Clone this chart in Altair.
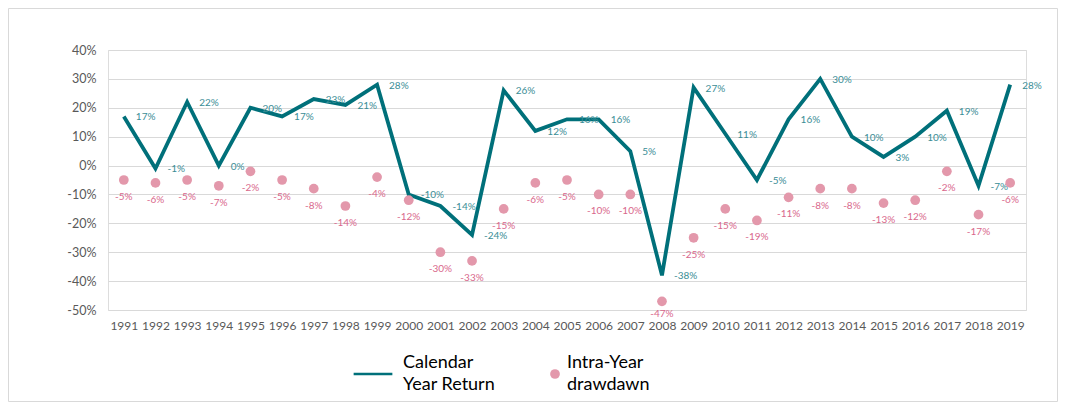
import altair as alt
import pandas as pd

years = [str(y) for y in range(1991, 2020)]
returns = [17, -1, 22, 0, 20, 17, 23, 21, 28, -10, -14, -24, 26, 12, 16, 16, 5, -38,
           27, 11, -5, 16, 30, 10, 3, 10, 19, -7, 28]
drawdowns = [-5, -6, -5, -7, -2, -5, -8, -14, -4, -12, -30, -33, -15, -6, -5, -10, -10,
             -47, -25, -15, -19, -11, -8, -8, -13, -12, -2, -17, -6]
series_names = ["Calendar\nYear Return", "Intra-Year\ndrawdawn"]
y_ticks = [40, 30, 20, 10, 0, -10, -20, -30, -40, -50]

TEAL = "#00707A"
TEAL_TXT = "#3A8D96"
PINK = "#E398AB"
PINK_TXT = "#D9688C"
FONT = "Lato"

df = pd.DataFrame({
    "year": years,
    "ret": returns,
    "dd": drawdowns,
    "s1": series_names[0],
    "s2": series_names[1],
})

W, H = 918, 260
x = alt.X("year:O", scale=alt.Scale(type="point", padding=0.5),
          axis=alt.Axis(title=None, labelAngle=0, domain=False, ticks=False,
                        labelPadding=10, labelFontSize=12, labelColor="#595959",
                        labelFont=FONT, grid=False, labelOverlap=False))
yscale = alt.Scale(domain=[-50, 40])
yaxis = alt.Axis(title=None, values=y_ticks, labelExpr="datum.value + '%'",
                 domain=False, ticks=False, grid=True, gridColor="#D9D9D9",
                 labelOverlap=False, labelPadding=12, labelFontSize=12.5,
                 labelColor="#595959", labelFont=FONT)

base = alt.Chart(df)

legend_common = dict(title=None, orient="none", labelFontSize=18,
                     labelFont=FONT, labelColor="#000000",
                     labelExpr="split(datum.label, '\\n')", labelLimit=300,
                     labelBaseline="line-bottom")

line = base.mark_line(strokeWidth=3.8, strokeJoin="miter").encode(
    x=x,
    y=alt.Y("ret:Q", scale=yscale, axis=yaxis),
    stroke=alt.Stroke("s1:N", scale=alt.Scale(range=[TEAL]),
                      legend=alt.Legend(legendX=244, legendY=303, symbolType="stroke",
                                        symbolSize=1500, symbolStrokeWidth=2.5,
                                        labelOffset=9, **legend_common)),
)

ret_lbl = base.transform_calculate(lbl="datum.ret + '%'").mark_text(
    align="left", baseline="middle", dx=12, dy=1, fontSize=10, font=FONT, color=TEAL_TXT
).encode(x=x, y=alt.Y("ret:Q", scale=yscale, axis=yaxis), text="lbl:N")

dots = base.mark_circle(size=95, opacity=1).encode(
    x=x,
    y=alt.Y("dd:Q", scale=yscale, axis=yaxis),
    fill=alt.Fill("s2:N", scale=alt.Scale(range=[PINK]),
                  legend=alt.Legend(legendX=438, legendY=315, symbolType="circle",
                                    symbolSize=95, labelOffset=3, **legend_common)),
)

dd_base = base.transform_calculate(lbl="datum.dd + '%'")
dd_lbl = dd_base.transform_filter("datum.dd >= -40").mark_text(
    align="center", baseline="middle", dy=17, fontSize=10, font=FONT, color=PINK_TXT
).encode(x=x, y=alt.Y("dd:Q", scale=yscale, axis=yaxis), text="lbl:N")
dd_lbl_low = dd_base.transform_filter("datum.dd < -40").mark_text(
    align="center", baseline="middle", dy=13, fontSize=10, font=FONT, color=PINK_TXT
).encode(x=x, y=alt.Y("dd:Q", scale=yscale, axis=yaxis), text="lbl:N")

frame = alt.Chart(pd.DataFrame({"f": [0]})).mark_rect(
    fillOpacity=0, stroke="#D9D9D9", strokeWidth=1
).encode(x=alt.value(-99.5), x2=alt.value(949.5), y=alt.value(-41.5), y2=alt.value(351.5))

chart = alt.layer(frame, line, ret_lbl, dots, dd_lbl, dd_lbl_low).resolve_scale(
    stroke="independent", fill="independent"
).properties(
    width=W, height=H,
    autosize=alt.AutoSizeParams(type="none"),
    padding={"left": 100, "top": 42, "right": 32, "bottom": 92},
).configure_view(stroke=None).configure_axis(labelOverlap=False).configure(
    style={"guide-label": {"lineHeight": 22}})

chart.save("out.html", embed_options={"renderer": "svg", "actions": False})
